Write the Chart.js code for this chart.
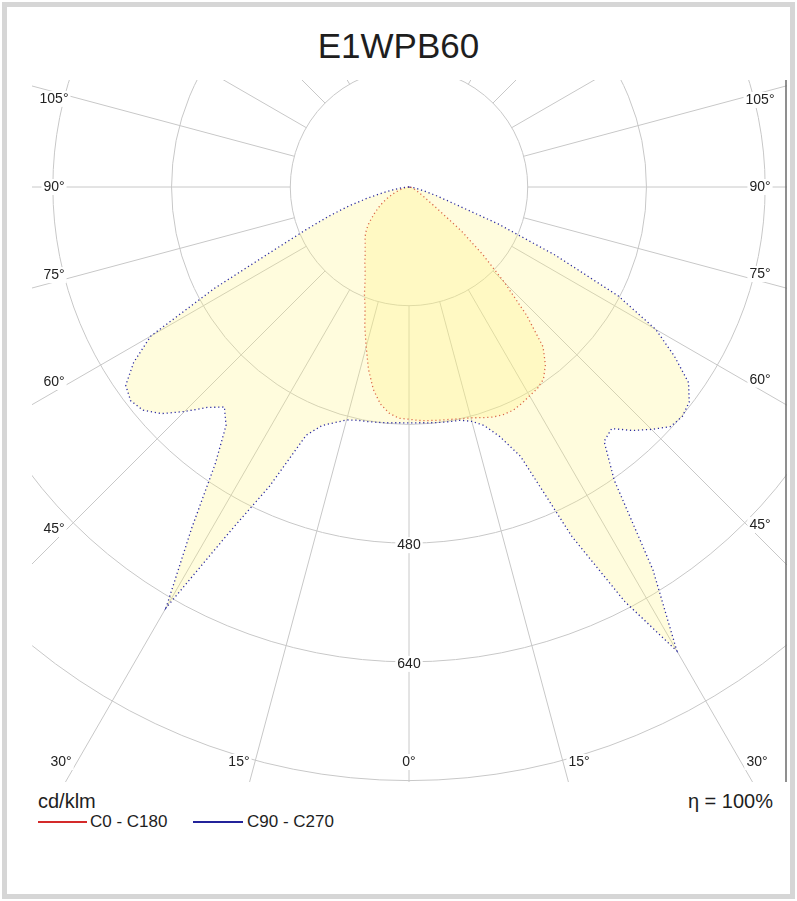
<!DOCTYPE html>
<html>
<head>
<meta charset="utf-8">
<title>E1WPB60</title>
<script src="https://cdn.jsdelivr.net/npm/chart.js"></script>
<style>
  body { margin: 0; background: #fff; font-family: "Liberation Sans", Arial, sans-serif; color: #1e1e1e; }
  #frame { position: absolute; left: 2px; top: 2px; width: 783px; height: 887px; border: 5px solid #d6d6d6; }
  #title { position: absolute; left: 0; top: 26px; width: 797px; text-align: center; font-size: 35px; line-height: 40px; }
  #wrap { position: absolute; left: 32px; top: 80px; width: 755px; height: 702px; }
  .txt { position: absolute; white-space: nowrap; }
  .key { position: absolute; height: 2px; }
</style>
</head>
<body>
<div id="frame"></div>
<div id="title">E1WPB60</div>
<div id="wrap"><canvas id="polar" width="755" height="702"></canvas></div>
<div class="txt" style="left:38px;top:789px;font-size:20px;line-height:24px">cd/klm</div>
<div class="txt" style="right:24px;top:789px;font-size:20px;line-height:24px">η = 100%</div>
<div class="key" style="left:38px;top:821px;width:49px;background:#d42a2a"></div>
<div class="txt" style="left:90px;top:812px;font-size:17px;line-height:20px">C0 - C180</div>
<div class="key" style="left:193px;top:821px;width:50px;background:#23239a"></div>
<div class="txt" style="left:247px;top:812px;font-size:17px;line-height:20px">C90 - C270</div>

<script>
// gamma angles (deg from nadir) and intensities in cd/klm
const gammas = [0, 2.5, 5, 7.5, 10, 12.5, 15, 17.5, 20, 22.5, 25, 27.5, 30, 32.5, 35, 37.5, 40, 42.5, 45,
  47.5, 50, 52.5, 55, 57.5, 60, 62.5, 65, 67.5, 70, 72.5, 75, 77.5, 80, 82.5, 85, 87.5, 90];

const c0Right = [315, 315, 316, 317, 318, 320, 322, 326, 330, 332, 332, 329, 325, 322, 316, 302, 281, 235, 182,
  135, 92, 48, 30, 22, 16, 13, 10, 8, 6, 5, 4, 3, 2, 2, 1, 1, 0];
const c180Left = [313, 312, 306, 295, 277, 252, 223, 198, 173, 157, 140, 128, 119, 110, 103, 97, 92, 87, 81,
  74, 66, 59, 52, 46, 39, 33, 27, 22, 17, 13, 10, 7, 5, 3, 2, 1, 0];
const c90Right = [318, 318, 319, 320, 321, 322, 327, 337, 358, 393, 520, 630, 722, 612, 482, 432, 425, 445, 462,
  478, 481, 476, 460, 424, 384, 318, 218, 130, 60, 38, 22, 14, 8, 5, 3, 1, 0];
const c270Left = [318, 318, 319, 320, 321, 322, 325, 333, 342, 362, 445, 525, 655, 545, 455, 405, 387, 403, 428,
  452, 468, 473, 466, 440, 402, 295, 200, 150, 115, 85, 58, 36, 22, 12, 6, 2, 0];

const ringValues = [160, 320, 480, 640, 800];
const ringLabelValues = [480, 640];
const sideAngles = [105, 90, 75, 60, 45];
const bottomAngles = [30, 15, 0];

// polar (gamma, I) -> x/y in cd/klm, left half runs 90..0, right half 0..90
function toPoints(left, right) {
  const pts = [];
  for (let i = gammas.length - 1; i >= 0; i--) {
    const t = gammas[i] * Math.PI / 180;
    pts.push({ x: -left[i] * Math.sin(t), y: -left[i] * Math.cos(t) });
  }
  for (let i = 1; i < gammas.length; i++) {
    const t = gammas[i] * Math.PI / 180;
    pts.push({ x: right[i] * Math.sin(t), y: -right[i] * Math.cos(t) });
  }
  return pts;
}

const pxPerUnit = 0.742;
const centre = { x: 377, y: 107 };

function tag(ctx, text, px, py) {
  const w = ctx.measureText(text).width;
  ctx.fillStyle = '#fff';
  ctx.fillRect(px - w / 2 - 2, py - 8, w + 4, 16);
  ctx.fillStyle = '#222';
  ctx.fillText(text, px, py);
}

const polarGrid = {
  id: 'polarGrid',
  beforeDatasetsDraw(chart) {
    const { ctx, chartArea: a, scales: { x, y } } = chart;
    const cx = x.getPixelForValue(0), cy = y.getPixelForValue(0);
    const k = (x.getPixelForValue(1000) - cx) / 1000;
    ctx.save();
    ctx.beginPath();
    ctx.rect(a.left, a.top, a.right - a.left, a.bottom - a.top);
    ctx.clip();
    ctx.strokeStyle = '#c8c8c8';
    ctx.lineWidth = 1;
    ringValues.forEach(v => {
      ctx.beginPath();
      ctx.arc(cx, cy, v * k, 0, Math.PI * 2);
      ctx.stroke();
    });
    const r0 = ringValues[0] * k, r1 = 2000 * k;
    for (let g = -165; g <= 180; g += 15) {
      const t = g * Math.PI / 180;
      ctx.beginPath();
      ctx.moveTo(cx + r0 * Math.sin(t), cy + r0 * Math.cos(t));
      ctx.lineTo(cx + r1 * Math.sin(t), cy + r1 * Math.cos(t));
      ctx.stroke();
    }
    ctx.restore();
  },
  afterDatasetsDraw(chart) {
    const { ctx, chartArea: a, scales: { x, y } } = chart;
    const cx = x.getPixelForValue(0), cy = y.getPixelForValue(0);
    const k = (x.getPixelForValue(1000) - cx) / 1000;
    ctx.save();
    ctx.font = '14px "Liberation Sans", Arial, sans-serif';
    ctx.textAlign = 'center';
    ctx.textBaseline = 'middle';

    // ring values on the nadir axis
    ringLabelValues.forEach(v => tag(ctx, String(v), cx, cy + v * k + 2));

    // angle labels on the left / right edges
    sideAngles.forEach(g => {
      [-1, 1].forEach(side => {
        const lx = side < 0 ? a.left + 22 : a.right - 27;
        const t = g * Math.PI / 180;
        let ly = cy + Math.abs(lx - cx) * Math.cos(t) / Math.sin(t);
        const shift = 4 + Math.abs(90 - g) / 45 * 9;
        if (g !== 90) ly += g > 90 ? shift : -shift;
        tag(ctx, g + '°', lx, ly);
      });
    });

    // angle labels along the bottom
    const by = a.bottom - 20;
    bottomAngles.forEach(g => {
      const sides = g === 0 ? [1] : [-1, 1];
      sides.forEach(side => {
        const t = g * Math.PI / 180;
        let lx = cx + side * ((by - cy) * Math.tan(t) + (g ? 16 : 0));
        lx = Math.min(Math.max(lx, a.left + 22), a.right - 27);
        tag(ctx, g + '°', lx, by);
      });
    });

    // right frame line of the plot
    ctx.strokeStyle = '#6a6a6a';
    ctx.lineWidth = 1.5;
    ctx.beginPath();
    ctx.moveTo(a.right - 1, a.top);
    ctx.lineTo(a.right - 1, a.bottom);
    ctx.stroke();
    ctx.restore();
  }
};

new Chart(document.getElementById('polar'), {
  type: 'scatter',
  data: {
    datasets: [{
      label: 'C90 - C270',
      data: toPoints(c270Left, c90Right),
      showLine: true,
      fill: 'shape',
      backgroundColor: 'rgba(255, 245, 120, 0.25)',
      borderColor: '#2a2aa0',
      borderWidth: 1.3,
      borderDash: [1.2, 2.8],
      pointRadius: 0,
      tension: 0
    }, {
      label: 'C0 - C180',
      data: toPoints(c180Left, c0Right),
      showLine: true,
      fill: 'shape',
      backgroundColor: 'rgba(255, 245, 120, 0.25)',
      borderColor: '#d03a3a',
      borderWidth: 1.3,
      borderDash: [1.2, 2.8],
      pointRadius: 0,
      tension: 0
    }]
  },
  options: {
    responsive: false,
    animation: false,
    layout: { padding: 0 },
    plugins: { legend: { display: false }, tooltip: { enabled: false } },
    scales: {
      x: { type: 'linear', display: false, min: -centre.x / pxPerUnit, max: (755 - centre.x) / pxPerUnit },
      y: { type: 'linear', display: false, min: -(702 - centre.y) / pxPerUnit, max: centre.y / pxPerUnit }
    }
  },
  plugins: [polarGrid]
});
</script>
</body>
</html>
